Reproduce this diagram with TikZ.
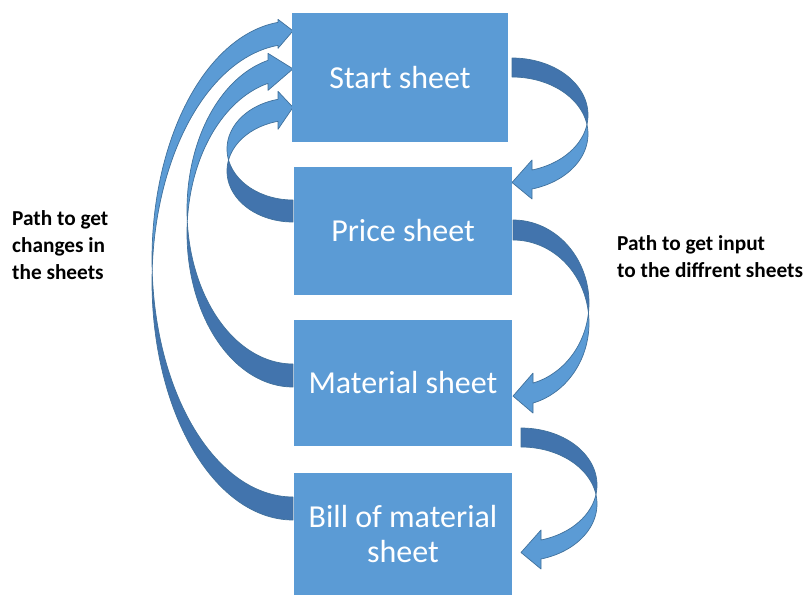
\documentclass[tikz,border=0pt]{standalone}
\usepackage{fontspec}
\setmainfont{Carlito}
\definecolor{boxblue}{HTML}{5B9BD5}
\definecolor{backblue}{HTML}{4274AD}
\definecolor{edgeblue}{HTML}{41719C}
\tikzset{
  curlback/.style={fill=backblue, draw=edgeblue, line width=0.7pt, line join=round},
  curlfront/.style={fill=boxblue, draw=edgeblue, line width=0.7pt, line join=round},
  sheetbox/.style={rectangle, fill=boxblue, draw=none, text=white, align=center,
    inner sep=0pt, font=\fontsize{32}{35}\selectfont},
  sidelabel/.style={align=left, inner sep=0pt, anchor=west, text=black,
    font=\bfseries\fontsize{21.3}{27}\selectfont}
}
% #1 cx, #2 cy, #3 rx, #4 ry, #5 width, #6 head dx, #7 barb, #8 sx, #9 sy
\newcommand\curlarrow[9]{%
  \pgfmathsetmacro\cTi{acos(-#5/(2*#4))}%
  \pgfmathsetmacro\cSi{180-\cTi}%
  \pgfmathsetmacro\cTh{180-asin(#6/#3)}%
  \pgfmathsetmacro\cHx{#1+#8*#6}%
  \pgfmathsetmacro\cPa{#2-#9*#4*cos(\cTh)}%
  \pgfmathsetmacro\cPb{\cPa+#9*#5}%
  \pgfmathsetmacro\cBa{\cPa-#9*#7}%
  \pgfmathsetmacro\cBb{\cPb+#9*#7}%
  \pgfmathsetmacro\cTy{(\cPa+\cPb)/2+#9*3}%
  \filldraw[curlback] plot[domain=0:\cTi,samples=60] ({#1+#8*#3*sin(\x)},{#2-#9*#4*cos(\x)})
     -- plot[domain=\cSi:0,samples=60] ({#1+#8*#3*sin(\x)},{#2-#9*#4*cos(\x)+#9*#5}) -- cycle;
  \filldraw[curlfront] plot[domain=\cSi:\cTh,samples=60] ({#1+#8*#3*sin(\x)},{#2-#9*#4*cos(\x)+#9*#5})
     -- (\cHx,\cBb) -- (#1,\cTy) -- (\cHx,\cBa) -- (\cHx,\cPa)
     -- plot[domain=\cTh:\cTi,samples=60] ({#1+#8*#3*sin(\x)},{#2-#9*#4*cos(\x)}) -- cycle;
}
\begin{document}
\begin{tikzpicture}[x=1pt,y=-1pt]
\useasboundingbox (0,0) rectangle (806,595);
% right-side input arrows
\curlarrow{512}{115}{76}{57}{19}{20}{10}{1}{1}
\curlarrow{513}{303}{76}{83}{20}{20}{10}{1}{1}
\curlarrow{521}{485}{76}{57}{19}{20}{10}{1}{1}
% left-side change arrows
\curlarrow{293}{171}{66}{51}{22}{15}{8}{-1}{-1}
\curlarrow{293}{233}{106}{154}{23}{25}{7}{-1}{-1}
\curlarrow{293}{282}{141}{238}{23}{15}{3}{-1}{-1}
% sheets
\node[sheetbox, minimum width=216pt, minimum height=129pt] (start) at (400,77.5) {Start sheet};
\node[sheetbox, minimum width=218pt, minimum height=128pt] (price) at (403,231) {Price sheet};
\node[sheetbox, minimum width=218pt, minimum height=126pt] (material) at (403,383) {Material sheet};
\node[sheetbox, minimum width=218pt, minimum height=122pt] (bill) at (403,534) {Bill of material\\sheet};
% labels
\node[sidelabel] (lchanges) at (12,245) {Path to get\\changes in\\the sheets};
\node[sidelabel] (linput) at (617,257) {Path to get input\\to the diffrent sheets};
\end{tikzpicture}
\end{document}
